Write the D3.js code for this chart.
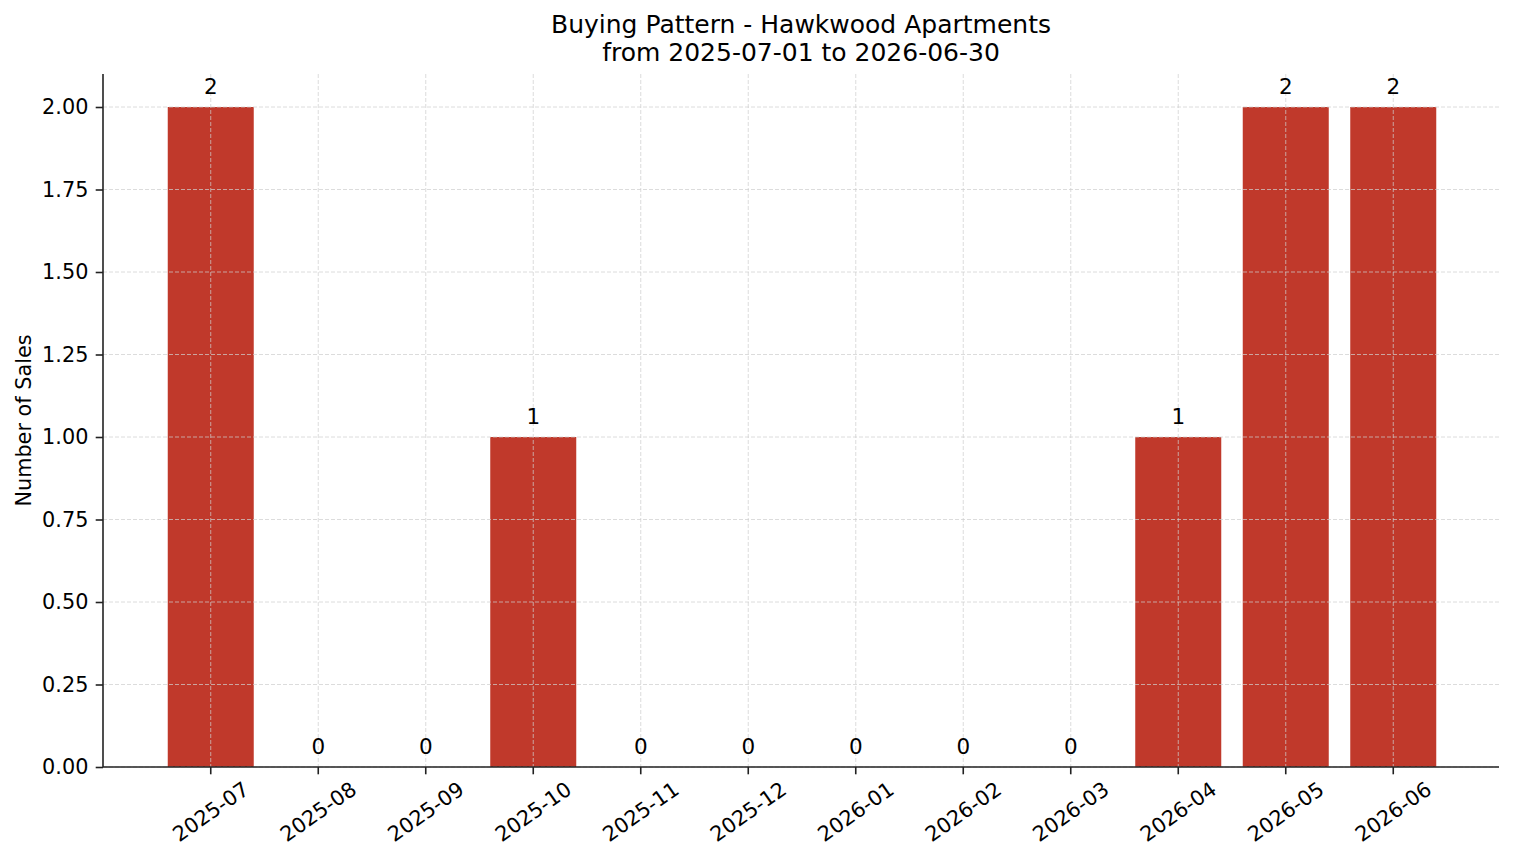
<!DOCTYPE html>
<html>
<head>
<meta charset="utf-8">
<script src="https://cdn.jsdelivr.net/npm/d3@7"></script>
<style>
  body { margin: 0; background: #fff; }
  svg { display: block; font-family: "DejaVu Sans", sans-serif; }
</style>
</head>
<body>
<div id="chart"></div>
<script>
const months = ["2025-07", "2025-08", "2025-09", "2025-10", "2025-11", "2025-12",
  "2026-01", "2026-02", "2026-03", "2026-04", "2026-05", "2026-06"];
const sales = [2, 0, 0, 1, 0, 0, 0, 0, 0, 1, 2, 2];
const yTicks = [0, 0.25, 0.5, 0.75, 1, 1.25, 1.5, 1.75, 2];

const W = 1514, H = 863;
const margin = { top: 74, right: 15, bottom: 96, left: 103 };
const innerW = W - margin.left - margin.right;
const innerH = H - margin.top - margin.bottom;
const barColor = "#c0392b";
const fs = 20.8;

const svg = d3.select("#chart").append("svg")
  .attr("width", W)
  .attr("height", H);

const g = svg.append("g")
  .attr("transform", `translate(${margin.left},${margin.top})`);

const x = d3.scaleBand()
  .domain(months)
  .range([1, innerW + 1])
  .paddingInner(0.2)
  .paddingOuter(0.593);

const y = d3.scaleLinear()
  .domain([0, 2.1])
  .range([innerH, 0]);

// bars
g.selectAll(".bar")
  .data(months)
  .enter()
  .append("rect")
  .attr("class", "bar")
  .attr("x", d => x(d))
  .attr("y", (d, i) => y(sales[i]))
  .attr("width", x.bandwidth())
  .attr("height", (d, i) => y(0) - y(sales[i]))
  .attr("fill", barColor);

// grid (drawn over bars like the original)
g.selectAll(".ygrid")
  .data(yTicks)
  .enter()
  .append("line")
  .attr("x1", 0)
  .attr("x2", innerW)
  .attr("y1", d => y(d))
  .attr("y2", d => y(d))
  .attr("stroke", "#cfcfcf")
  .attr("stroke-width", 0.9)
  .attr("stroke-dasharray", "4,2")
  .attr("opacity", 0.8);

g.selectAll(".xgrid")
  .data(months)
  .enter()
  .append("line")
  .attr("x1", d => x(d) + x.bandwidth() / 2)
  .attr("x2", d => x(d) + x.bandwidth() / 2)
  .attr("y1", 0)
  .attr("y2", innerH)
  .attr("stroke", "#cfcfcf")
  .attr("stroke-width", 0.9)
  .attr("stroke-dasharray", "4,2")
  .attr("opacity", 0.8);

// value labels
g.selectAll(".val")
  .data(months)
  .enter()
  .append("text")
  .attr("x", d => x(d) + x.bandwidth() / 2)
  .attr("y", (d, i) => y(sales[i]) - 13)
  .attr("text-anchor", "middle")
  .style("font-size", "21.5px")
  .style("fill", "#000")
  .text((d, i) => sales[i]);

// y axis
const yAxis = g.append("g")
  .call(d3.axisLeft(y).tickValues(yTicks).tickFormat(d3.format(".2f")).tickSize(7.3).tickPadding(7.3));
yAxis.select(".domain").attr("stroke", "#222").attr("stroke-width", 1.6)
  .attr("d", `M0,0V${innerH}`);
yAxis.selectAll(".tick line").attr("stroke", "#222").attr("stroke-width", 1.6);
yAxis.selectAll(".tick text")
  .style("font-size", fs + "px")
  .style("font-family", "DejaVu Sans")
  .attr("fill", "#000");

// x axis
const xAxis = g.append("g")
  .attr("transform", `translate(0,${innerH})`)
  .call(d3.axisBottom(x).tickSize(7.3).tickPadding(7.3));
xAxis.select(".domain").attr("stroke", "#222").attr("stroke-width", 1.6)
  .attr("d", `M0,0H${innerW}`);
xAxis.selectAll(".tick line").attr("stroke", "#222").attr("stroke-width", 1.6);
xAxis.selectAll(".tick text")
  .style("font-size", fs + "px")
  .style("font-family", "DejaVu Sans")
  .attr("fill", "#000")
  .attr("text-anchor", "middle")
  .each(function() {
    const t = d3.select(this);
    const w = this.getComputedTextLength();
    const a = 35 * Math.PI / 180;
    const cy = 14.6 + (w * Math.sin(a) + 0.6 * fs * Math.cos(a)) / 2;
    t.attr("y", cy)
      .attr("dy", "0.35em")
      .attr("transform", `rotate(-35,0,${cy})`);
  });

// y label
svg.append("text")
  .attr("transform", `translate(31,${margin.top + innerH / 2}) rotate(-90)`)
  .attr("text-anchor", "middle")
  .style("font-size", fs + "px")
  .text("Number of Sales");

// title
const title = svg.append("text")
  .attr("x", margin.left + innerW / 2)
  .attr("text-anchor", "middle")
  .style("font-size", "25px");
title.append("tspan")
  .attr("x", margin.left + innerW / 2)
  .attr("y", 33)
  .text("Buying Pattern - Hawkwood Apartments");
title.append("tspan")
  .attr("x", margin.left + innerW / 2)
  .attr("y", 61)
  .text("from 2025-07-01 to 2026-06-30");
</script>
</body>
</html>
